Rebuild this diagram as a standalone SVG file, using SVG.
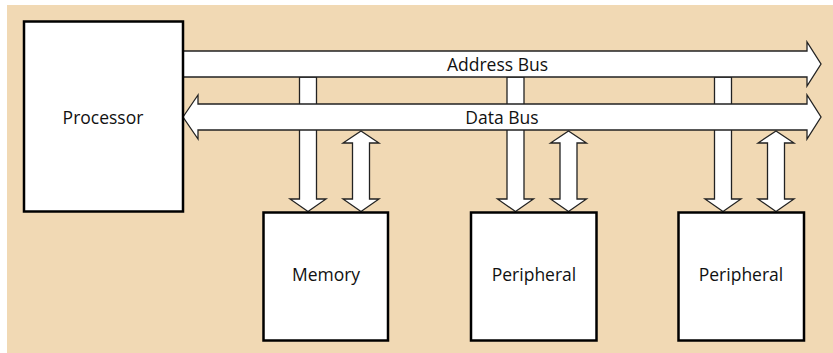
<svg xmlns="http://www.w3.org/2000/svg" width="833" height="353" viewBox="0 0 833 353">
<style>
.bg{fill:#F1D9B4}
.box{fill:#fff;stroke:#000;stroke-width:2.5}
.bus{fill:#fff;stroke:#222;stroke-width:1.3;stroke-linejoin:miter}
.lbl{font-family:"Open Sans","Noto Sans",sans-serif;font-size:17.5px;fill:#111;text-anchor:middle}
</style>
<rect class="bg" x="7" y="5" width="826" height="348"/>
<g id="connectors">
  <polygon class="bus" points="299.5,77 316.5,77 316.5,199 326,199 308,211.5 290,199 299.5,199"/>
  <polygon class="bus" points="507,77 524,77 524,199 533.5,199 515.5,211.5 497.5,199 507,199"/>
  <polygon class="bus" points="714.5,77 731.5,77 731.5,199 741,199 723,211.5 705,199 714.5,199"/>
  <polygon class="bus" points="361,131 379,143 369.5,143 369.5,199 379,199 361,211.5 343,199 352.5,199 352.5,143 343,143"/>
  <polygon class="bus" points="568.5,131 586.5,143 577,143 577,199 586.5,199 568.5,211.5 550.5,199 560,199 560,143 550.5,143"/>
  <polygon class="bus" points="776,131 794,143 784.5,143 784.5,199 794,199 776,211.5 758,199 767.5,199 767.5,143 758,143"/>
  <g id="address-bus">
    <polygon class="bus" points="183,51 807,51 807,42 821,64 807,86 807,77 183,77"/>
    <text class="lbl" x="497.5" y="70.5">Address Bus</text>
  </g>
  <g id="data-bus">
    <polygon class="bus" points="183,117 198,95 198,104 807,104 807,95 821,117 807,139 807,130 198,130 198,139"/>
    <text class="lbl" x="502" y="124">Data Bus</text>
  </g>
</g>
<g id="processor">
  <rect class="box" x="24" y="21.5" width="159" height="190"/>
  <text class="lbl" x="103" y="124">Processor</text>
</g>
<g id="memory">
  <rect class="box" x="263.5" y="212.5" width="124.5" height="128"/>
  <text class="lbl" x="326" y="281">Memory</text>
</g>
<g id="peripheral1">
  <rect class="box" x="471" y="212.5" width="125.5" height="128"/>
  <text class="lbl" x="534" y="281">Peripheral</text>
</g>
<g id="peripheral2">
  <rect class="box" x="678.5" y="212.5" width="125.5" height="128"/>
  <text class="lbl" x="741" y="281">Peripheral</text>
</g>
</svg>
